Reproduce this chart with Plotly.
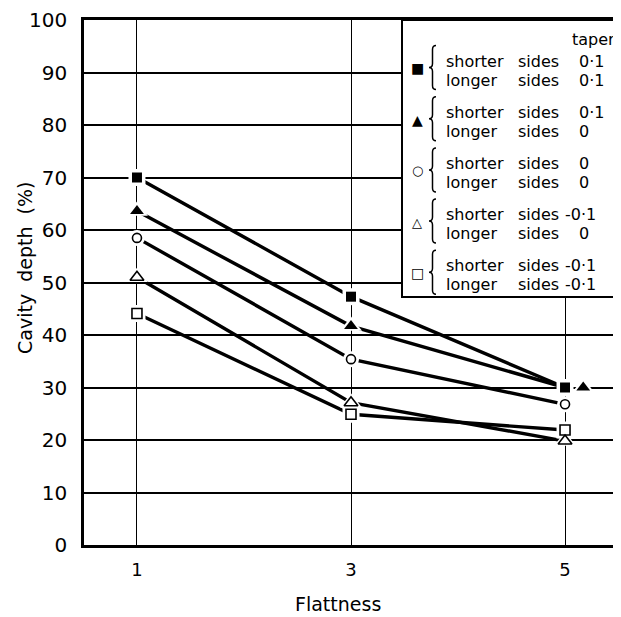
import plotly.graph_objects as go

# ---------------- data ----------------
flattness = [1, 3, 5]
sq_filled = [70, 47.3, 30]
tri_filled = [63.6, 41.7, 30]
circ_open = [58.5, 35.4, 26.8]
tri_open = [51, 27.1, 19.8]
sq_open = [44.1, 24.9, 21.9]
tri_filled_marker_x = [1, 3, 5.17]   # last marker drawn beside the square in the original

y_ticks = [0, 10, 20, 30, 40, 50, 60, 70, 80, 90, 100]
x_ticks = [1, 3, 5]

legend_symbols = ["■", "▲", "○", "△", "□"]
legend_sym_sizes = [14, 14, 13, 13, 14]
legend_shorter = ["0·1", "0·1", "0", "-0·1", "-0·1"]
legend_longer = ["0·1", "0", "0", "0", "-0·1"]

# ---------------- layout geometry ----------------
OFF = 8  # page body margin of the browser
W, H = 621 - OFF, 617 - OFF
ML, MR, MT, MB = 84 - OFF, 0, 20 - OFF, 72
PW, PH = W - ML - MR, H - MT - MB
FONT = "DejaVu Sans"


def px(x):
    return (x - OFF - ML) / PW


def py(y):
    return (H - MB - (y - OFF)) / PH


fig = go.Figure()

series = [
    (sq_filled, flattness, dict(symbol="square", size=10, color="black")),
    (tri_filled, tri_filled_marker_x, dict(symbol="triangle-up", size=12, color="black")),
    (circ_open, flattness, dict(symbol="circle-open", size=9, color="black", line=dict(width=1.6, color="black"))),
    (tri_open, flattness, dict(symbol="triangle-up-open", size=12, color="black", line=dict(width=1.6, color="black"))),
    (sq_open, flattness, dict(symbol="square-open", size=10, color="black", line=dict(width=1.6, color="black"))),
]

# lines
for ys, mx, mk in series:
    fig.add_trace(go.Scatter(x=flattness, y=ys, mode="lines",
                             line=dict(color="black", width=3.4),
                             hoverinfo="skip", showlegend=False))
# white halos (gaps between lines and markers)
for ys, mx, mk in series:
    sym = mk["symbol"].replace("-open", "")
    fig.add_trace(go.Scatter(x=mx, y=ys, mode="markers",
                             marker=dict(symbol=sym, size=mk["size"] + 7, color="white",
                                         line=dict(width=0)),
                             hoverinfo="skip", showlegend=False))
# markers
for ys, mx, mk in series:
    fig.add_trace(go.Scatter(x=mx, y=ys, mode="markers", marker=mk, showlegend=False))

shapes = []
# legend box
shapes.append(dict(type="rect", xref="paper", yref="paper",
                   x0=px(402), x1=px(623), y0=py(297), y1=py(20),
                   fillcolor="white", line=dict(color="black", width=2), layer="above"))

annotations = []


def brace_path(xr, yt, yb, w=7):
    xm = xr - w / 2
    xl = xr - w
    ym = (yt + yb) / 2
    pts = [
        ("M", [(xr, yt)]),
        ("Q", [(xm, yt), (xm, yt + 4)]),
        ("L", [(xm, ym - 4)]),
        ("Q", [(xm, ym), (xl, ym)]),
        ("Q", [(xm, ym), (xm, ym + 4)]),
        ("L", [(xm, yb - 4)]),
        ("Q", [(xm, yb), (xr, yb)]),
    ]
    s = ""
    for cmd, ps in pts:
        s += cmd + " " + " ".join(f"{px(a):.5f},{py(b):.5f}" for a, b in ps) + " "
    return s.strip()


annotations.append(dict(x=px(593), y=py(40), xref="paper", yref="paper", text="taper",
                        showarrow=False, font=dict(family=FONT, size=16, color="black"),
                        xanchor="center", yanchor="middle"))

for k in range(5):
    mid = 70.5 + 51.2 * k
    y1, y2 = mid - 9.5, mid + 9.5
    shapes.append(dict(type="path", xref="paper", yref="paper",
                       path=brace_path(436, mid - 25, mid + 19),
                       line=dict(color="black", width=1.5), layer="above"))
    annotations.append(dict(x=px(417), y=py(mid - 2), xref="paper", yref="paper",
                            text=legend_symbols[k], showarrow=False,
                            font=dict(family=FONT, size=legend_sym_sizes[k], color="black"),
                            xanchor="center", yanchor="middle"))
    for yy, word, val in [(y1, "shorter", legend_shorter[k]), (y2, "longer", legend_longer[k])]:
        annotations.append(dict(x=px(444), y=py(yy), xref="paper", yref="paper", text=word,
                                showarrow=False, font=dict(family=FONT, size=16, color="black"),
                                xanchor="left", yanchor="middle"))
        annotations.append(dict(x=px(516), y=py(yy), xref="paper", yref="paper", text="sides",
                                showarrow=False, font=dict(family=FONT, size=16, color="black"),
                                xanchor="left", yanchor="middle"))
        vx = 563 if val.startswith("-") else 577
        annotations.append(dict(x=px(vx), y=py(yy), xref="paper", yref="paper", text=val,
                                showarrow=False, font=dict(family=FONT, size=16, color="black"),
                                xanchor="left", yanchor="middle"))

# axis titles
annotations.append(dict(x=px(338), y=py(604), xref="paper", yref="paper", text="Flattness",
                        showarrow=False, font=dict(family=FONT, size=19, color="black"),
                        xanchor="center", yanchor="middle"))
annotations.append(dict(x=px(25), y=py(268), xref="paper", yref="paper",
                        text="Cavity  depth  (%)", textangle=-90,
                        showarrow=False, font=dict(family=FONT, size=19, color="black"),
                        xanchor="center", yanchor="middle"))

fig.update_layout(
    width=W, height=H,
    margin=dict(l=ML, r=MR, t=MT, b=MB),
    plot_bgcolor="white", paper_bgcolor="white",
    font=dict(family=FONT, color="black"),
    shapes=shapes, annotations=annotations,
    showlegend=False,
)
fig.update_xaxes(range=[0.505, 5.523], tickvals=x_ticks, ticktext=[str(v) for v in x_ticks],
                 showgrid=True, gridcolor="black", gridwidth=1,
                 showline=True, linecolor="black", linewidth=2.5, mirror=True,
                 ticks="", tickfont=dict(family=FONT, size=18, color="black"),
                 ticklabelstandoff=7, zeroline=False)
fig.update_yaxes(range=[0, 100], tickvals=y_ticks,
                 showgrid=True, gridcolor="black", gridwidth=1.5,
                 showline=True, linecolor="black", linewidth=2.5,
                 ticks="", tickfont=dict(family=FONT, size=20, color="black"),
                 ticklabelstandoff=10, zeroline=False)

fig.write_html("out.html")
